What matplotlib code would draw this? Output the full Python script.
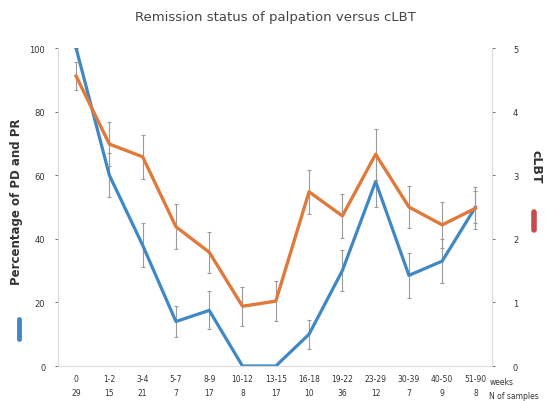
import numpy as np
import matplotlib.pyplot as plt
from matplotlib.lines import Line2D

# data
weeks = ["0", "1-2", "3-4", "5-7", "8-9", "10-12", "13-15", "16-18",
         "19-22", "23-29", "30-39", "40-50", "51-90"]
n_samples = [29, 15, 21, 7, 17, 8, 17, 10, 36, 12, 7, 9, 8]

pct_pd_pr = [100, 60, 38, 14, 17.5, 0, 0, 10, 30, 58, 28.5, 33, 50]
pct_err = [0, 7, 7, 5, 6, 0, 0, 4.5, 6.5, 8, 7, 7, 5]

clbt = [4.56, 3.49, 3.29, 2.19, 1.79, 0.94, 1.02, 2.74, 2.36, 3.33, 2.5, 2.22, 2.48]
clbt_err = [0.22, 0.35, 0.35, 0.35, 0.32, 0.31, 0.31, 0.35, 0.35, 0.4, 0.33, 0.36, 0.33]

blue = "#3f88c5"
orange = "#e07a3c"
grey = "#9a9a9a"

fig = plt.figure(figsize=(5.45, 4.02), dpi=100)
ax = fig.add_axes([0.106, 0.087, 0.797, 0.791])
ax2 = ax.twinx()

x = np.arange(len(weeks))

ax.errorbar(x, pct_pd_pr, yerr=pct_err, color=blue, lw=2.3, ecolor=grey,
            elinewidth=0.8, capsize=1.5, capthick=0.8, zorder=3)
ax2.errorbar(x, clbt, yerr=clbt_err, color=orange, lw=2.4, ecolor=grey,
             elinewidth=0.8, capsize=1.5, capthick=0.8, zorder=3)

ax.set_xlim(-0.55, 12.5)
ax.set_ylim(0, 100)
ax2.set_ylim(0, 5)
ax.set_yticks([0, 20, 40, 60, 80, 100])
ax2.set_yticks([0, 1, 2, 3, 4, 5])

ax.set_xticks(x)
ax.set_xticklabels([f"{w}\n{n}" for w, n in zip(weeks, n_samples)],
                   fontsize=5.5, color="#333333", linespacing=1.7)
ax.text(12.42, -0.034, "weeks\nN of samples", transform=ax.get_xaxis_transform(),
        fontsize=5.5, color="#333333", va="top", ha="left", linespacing=1.7,
        clip_on=False)

for a in (ax, ax2):
    a.tick_params(axis="y", labelsize=6, colors="#333333", length=2, width=0.5)
    a.tick_params(axis="x", length=0, pad=6)
    for s in a.spines.values():
        s.set_color("#dddddd")
        s.set_linewidth(0.8)
    a.spines["top"].set_visible(False)
ax.tick_params(axis="y", pad=7)
ax2.tick_params(axis="y", pad=13)

ax.set_ylabel("Percentage of PD and PR", fontsize=8.5, fontweight="bold",
              color="#333333")
ax.yaxis.set_label_coords(-0.08, 0.52)
ax2.set_ylabel("cLBT", fontsize=9, fontweight="bold", color="#333333",
               rotation=270)
ax2.yaxis.set_label_coords(1.115, 0.63)

ax.set_title("Remission status of palpation versus cLBT", fontsize=9.5,
             color="#444444", pad=20)

# little colour keys beside the axis labels
fig.add_artist(Line2D([0.034, 0.034], [0.155, 0.205], color=blue, lw=3.5,
                      solid_capstyle="round"))
fig.add_artist(Line2D([0.98, 0.98], [0.425, 0.47], color="#c94a4a", lw=4,
                      solid_capstyle="round"))

fig.savefig("out.png", dpi=100)
